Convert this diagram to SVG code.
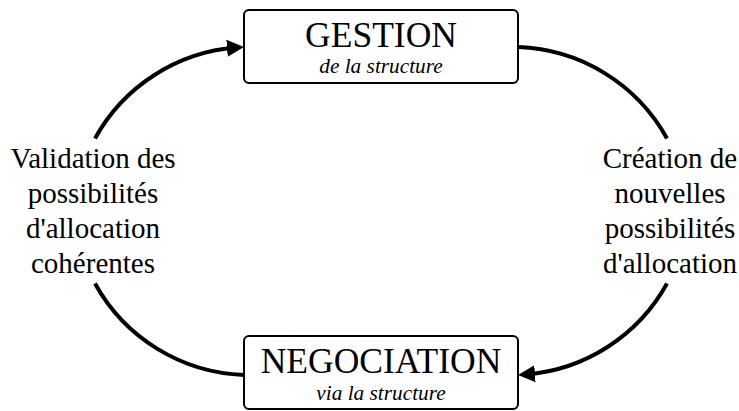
<svg xmlns="http://www.w3.org/2000/svg" width="739" height="411" viewBox="0 0 739 411">
  <style>
    .box { fill: #fff; stroke: #000; stroke-width: 2; }
    text { font-family: "Liberation Serif", "Times New Roman", Tinos, "DejaVu Serif", serif; fill: #000; text-anchor: middle; }
    .title { font-size: 35.5px; }
    .sub { font-size: 21.3px; font-style: italic; }
    .label { font-size: 29px; }
    .arc { fill: none; stroke: #000; stroke-width: 4; }
  </style>
  <defs>
    <marker id="arrow" markerUnits="userSpaceOnUse" markerWidth="20" markerHeight="20" viewBox="0 -10 20 20" refX="9" refY="0" orient="auto">
      <path d="M0,-8.5 L17,0 L0,8.5 z" fill="#000"/>
    </marker>
  </defs>

  <g id="connectors">
    <path class="arc" d="M95,138.5 A177,177 0 0 1 236,47.6" marker-end="url(#arrow)"/>
    <path class="arc" d="M518,47.1 A177,177 0 0 1 667,138.5"/>
    <path class="arc" d="M667,283.5 A177,177 0 0 1 526,374.4" marker-end="url(#arrow)"/>
    <path class="arc" d="M95,283.5 A177,177 0 0 0 244,374.9"/>
  </g>

  <g id="gestion">
    <rect class="box" x="244" y="10" width="274" height="73" rx="5"/>
    <text class="title" x="381" y="47">GESTION</text>
    <text class="sub" x="381" y="73">de la structure</text>
  </g>

  <g id="negociation">
    <rect class="box" x="244" y="336" width="274" height="73" rx="5"/>
    <text class="title" x="381" y="373">NEGOCIATION</text>
    <text class="sub" x="381" y="400">via la structure</text>
  </g>

  <g id="label-validation">
    <text class="label" x="93" y="168">Validation des</text>
    <text class="label" x="93" y="203">possibilités</text>
    <text class="label" x="93" y="238">d'allocation</text>
    <text class="label" x="93" y="273">cohérentes</text>
  </g>

  <g id="label-creation">
    <text class="label" x="670" y="168">Création de</text>
    <text class="label" x="670" y="203">nouvelles</text>
    <text class="label" x="670" y="238">possibilités</text>
    <text class="label" x="670" y="273">d'allocation</text>
  </g>
</svg>
